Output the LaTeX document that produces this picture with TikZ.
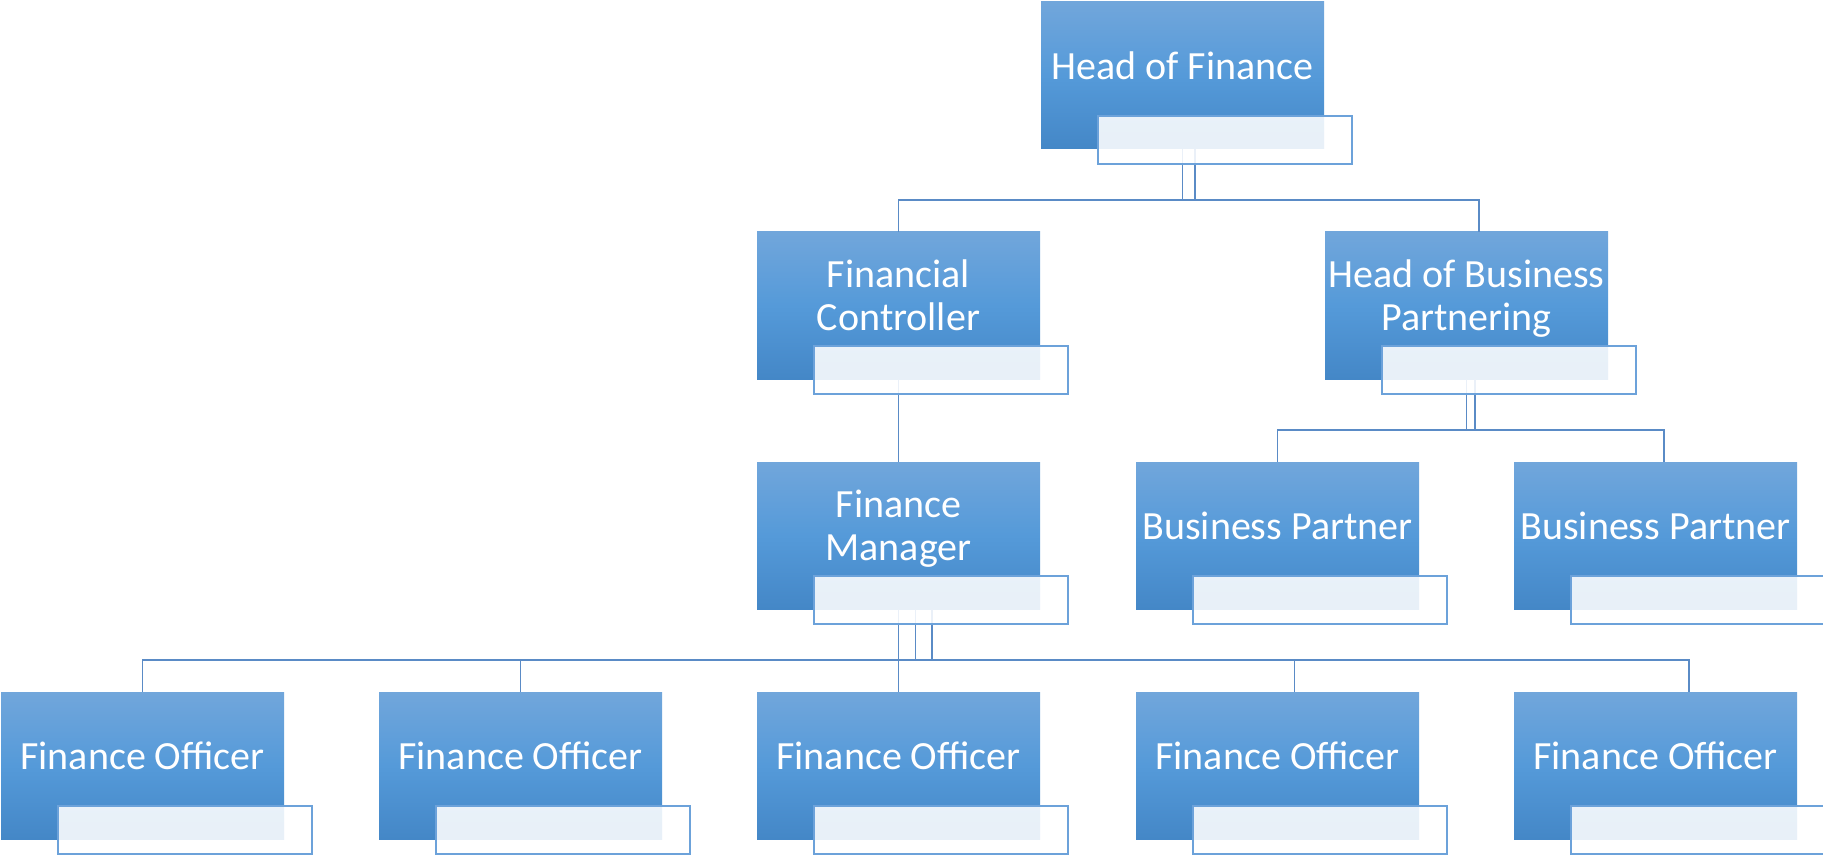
\documentclass[tikz,border=0pt]{standalone}
\usepackage{fontspec}
\setmainfont{Carlito}
\definecolor{boxtop}{HTML}{71A6DB}
\definecolor{boxmid}{HTML}{559AD9}
\definecolor{boxbot}{HTML}{4487C7}
\definecolor{subline}{HTML}{6CA2DA}
\definecolor{connc}{HTML}{5A8BC6}
\begin{document}
\begin{tikzpicture}[x=0.5pt,y=-0.5pt,
  box/.style={draw=none, minimum width=141.5pt, minimum height=73.5pt, inner sep=0pt, outer sep=0pt, anchor=north west, top color=boxtop, bottom color=boxbot, middle color=boxmid},
  subbox/.style={draw=subline, line width=0.75pt, fill=white, fill opacity=0.88, draw opacity=1, minimum width=127pt, minimum height=24pt, inner sep=0pt, outer sep=0pt, anchor=north west},
  lbl/.style={text=white, font=\fontsize{20}{21.5}\selectfont, align=center, text depth=0pt, inner sep=0pt},
  conn/.style={draw=connc, line width=0.75pt}]
\useasboundingbox (0,0) rectangle (1823,855);
% boxes
\node[box] (hof) at (1041,2) {};
\node[box] (fc) at (757,232) {};
\node[box] (hbp) at (1325,232) {};
\node[box] (fm) at (757,462) {};
\node[box] (bp1) at (1136,462) {};
\node[box] (bp2) at (1514,462) {};
\node[box] (fo1) at (1,692) {};
\node[box] (fo2) at (379,692) {};
\node[box] (fo3) at (757,692) {};
\node[box] (fo4) at (1136,692) {};
\node[box] (fo5) at (1514,692) {};
% labels
\node[lbl] (hof-t) at ([yshift=5pt]hof.center) {Head of Finance};
\node[lbl] (fc-t) at ([yshift=5pt]fc.center) {Financial\\Controller};
\node[lbl] (hbp-t) at ([yshift=5pt]hbp.center) {Head of Business\\Partnering};
\node[lbl] (fm-t) at ([yshift=5pt]fm.center) {Finance\\Manager};
\node[lbl] (bp1-t) at ([yshift=5pt]bp1.center) {Business Partner};
\node[lbl] (bp2-t) at ([yshift=5pt]bp2.center) {Business Partner};
\node[lbl] (fo1-t) at ([yshift=5pt]fo1.center) {Finance Officer};
\node[lbl] (fo2-t) at ([yshift=5pt]fo2.center) {Finance Officer};
\node[lbl] (fo3-t) at ([yshift=5pt]fo3.center) {Finance Officer};
\node[lbl] (fo4-t) at ([yshift=5pt]fo4.center) {Finance Officer};
\node[lbl] (fo5-t) at ([yshift=5pt]fo5.center) {Finance Officer};
% connectors
\draw[conn] (hof.south) -- ++(0,-25.5pt) -| (fc.north);
\draw[conn] ([xshift=6.25pt]hof.south) -- ++(0,-25.5pt) -- ++(-6.25pt,0) -| ([xshift=6.25pt]hbp.north);
\draw[conn] (fc.south) -- (fm.north);
\draw[conn] (hbp.south) -- ++(0,-25.5pt) -| (bp1.north);
\draw[conn] ([xshift=4.25pt]hbp.south) -- ++(0,-25.5pt) -- ++(-4.25pt,0) -| ([xshift=4.25pt]bp2.north);
\draw[conn] (fm.south) -- ++(0,-25.5pt) -| (fo1.north);
\draw[conn] (fm.south) -- ++(0,-25.5pt) -| (fo2.north);
\draw[conn] (fm.south) -- (fo3.north);
\draw[conn] ([xshift=8.5pt]fm.south) -- ++(0,-25.5pt) -- ++(-8.5pt,0) -| ([xshift=8.5pt]fo4.north);
\draw[conn] ([xshift=16.75pt]fm.south) -- ++(0,-25.5pt) -- ++(-16.75pt,0) -| ([xshift=16.75pt]fo5.north);
% sub boxes
\foreach \n in {hof,fc,hbp,fm,bp1,bp2,fo1,fo2,fo3,fo4,fo5}
  \node[subbox] (\n-s) at ([xshift=28.5pt,yshift=16.5pt]\n.south west) {};
\end{tikzpicture}
\end{document}
